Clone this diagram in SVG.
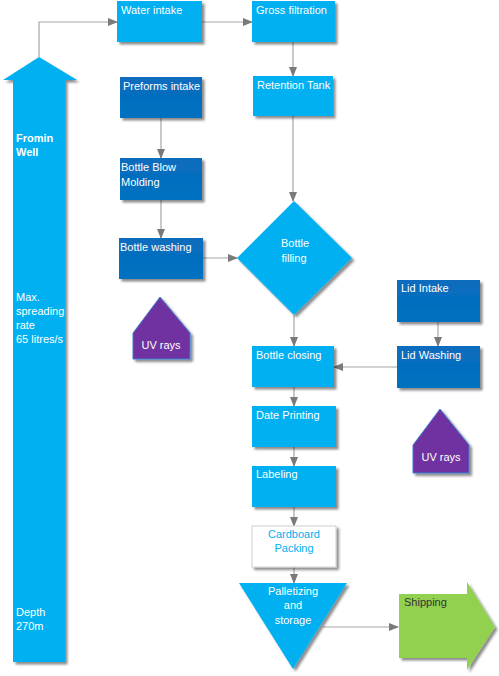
<svg xmlns="http://www.w3.org/2000/svg" width="499" height="676" viewBox="0 0 499 676">
<defs>
<filter id="sh" x="-20%" y="-20%" width="140%" height="140%">
<feDropShadow dx="2.5" dy="2.5" stdDeviation="1.2" flood-color="#000" flood-opacity="0.45"/>
</filter>
<linearGradient id="dk" x1="0" y1="0" x2="0" y2="1">
<stop offset="0" stop-color="#0a6cbd"/>
<stop offset="1" stop-color="#0070c0"/>
</linearGradient>
<marker id="ah" markerWidth="10" markerHeight="8" refX="9" refY="4" orient="auto" markerUnits="userSpaceOnUse">
<path d="M0,0 L10,4 L0,8 Z" fill="#7a7a7a"/>
</marker>
</defs>
<style>
text{font-family:"Liberation Sans",Arial,sans-serif;font-size:11px;fill:#fff}
.lb{fill:#00b0f0;filter:url(#sh)}
.db{fill:url(#dk);filter:url(#sh)}
.uv{fill:#7030a0;stroke:#3a7fd0;stroke-width:1;filter:url(#sh)}
.ca{fill:none;stroke:#a6a6a6;stroke-width:1.2;marker-end:url(#ah)}
.m{text-anchor:middle}
</style>

<g id="connectors">
<path class="ca" d="M39,57 V22 H117"/>
<path class="ca" d="M202,22 H252"/>
<path class="ca" d="M293,42 V76"/>
<path class="ca" d="M293,116 V201"/>
<path class="ca" d="M161,118 V158"/>
<path class="ca" d="M161,200 V238"/>
<path class="ca" d="M203,258 H237"/>
<path class="ca" d="M294,315 V346"/>
<path class="ca" d="M438,322 V346"/>
<path class="ca" d="M397,367 H334"/>
<path class="ca" d="M294,387 V406"/>
<path class="ca" d="M294,447 V466"/>
<path class="ca" d="M294,507 V526"/>
<path class="ca" d="M294,567 V583"/>
<path class="ca" d="M323,627 H398"/>
</g>

<g id="well">
<path class="lb" d="M13,662 V80 H3 L39,57 L77,80 H65 V662 Z"/>
<text x="16" y="142" font-weight="bold">Fromin</text>
<text x="16" y="156" font-weight="bold">Well</text>
<text x="16" y="301">Max.</text>
<text x="16" y="315">spreading</text>
<text x="16" y="329">rate</text>
<text x="16" y="343">65 litres/s</text>
<text x="16" y="616">Depth</text>
<text x="16" y="630">270m</text>
</g>

<g id="water-intake">
<rect class="lb" x="117" y="1" width="85" height="41"/>
<text x="121" y="14">Water intake</text>
</g>
<g id="gross-filtration">
<rect class="lb" x="252" y="1" width="83" height="41"/>
<text x="256" y="14">Gross filtration</text>
</g>
<g id="retention-tank">
<rect class="lb" x="253" y="76" width="80" height="40"/>
<text x="257" y="89">Retention Tank</text>
</g>
<g id="preforms-intake">
<rect class="db" x="120" y="77" width="82" height="41"/>
<text x="123" y="90">Preforms intake</text>
</g>
<g id="bottle-blow-molding">
<rect class="db" x="120" y="158" width="82" height="42"/>
<text x="121" y="171">Bottle Blow</text>
<text x="121" y="186">Molding</text>
</g>
<g id="bottle-washing">
<rect class="db" x="119" y="238" width="84" height="41"/>
<text x="120" y="251">Bottle washing</text>
</g>
<g id="uv-rays-1">
<path class="uv" d="M160,297 L190,333 V359 H133 V333 Z"/>
<text class="m" x="161" y="349">UV rays</text>
</g>
<g id="bottle-filling">
<path class="lb" d="M294,201 L352,258 L294,315 L237,258 Z"/>
<text class="m" x="295" y="247">Bottle</text>
<text class="m" x="294" y="262">filling</text>
</g>
<g id="lid-intake">
<rect class="db" x="397" y="280" width="83" height="42"/>
<text x="401" y="292">Lid Intake</text>
</g>
<g id="lid-washing">
<rect class="db" x="397" y="346" width="83" height="42"/>
<text x="401" y="359">Lid Washing</text>
</g>
<g id="bottle-closing">
<rect class="lb" x="252" y="346" width="82" height="41"/>
<text x="256" y="359">Bottle closing</text>
</g>
<g id="date-printing">
<rect class="lb" x="252" y="406" width="84" height="41"/>
<text x="256" y="419">Date Printing</text>
</g>
<g id="uv-rays-2">
<path class="uv" d="M440,409 L469,445 V473 H413 V445 Z"/>
<text class="m" x="441" y="461">UV rays</text>
</g>
<g id="labeling">
<rect class="lb" x="252" y="466" width="84" height="41"/>
<text x="256" y="478">Labeling</text>
</g>
<g id="cardboard-packing">
<rect x="252" y="526" width="84" height="41" fill="#fff" stroke="#d0d0d0" stroke-width="1" filter="url(#sh)"/>
<text class="m" x="294" y="538" style="fill:#00b0f0">Cardboard</text>
<text class="m" x="294" y="552" style="fill:#00b0f0">Packing</text>
</g>
<g id="palletizing">
<path class="lb" d="M239,583 H347 L293,669 Z"/>
<text class="m" x="293" y="595">Palletizing</text>
<text class="m" x="293" y="609">and</text>
<text class="m" x="293" y="624">storage</text>
</g>
<g id="shipping">
<path d="M399,594 H467 V582 L495,627 L467,670 V658 H399 Z" fill="#92d050" filter="url(#sh)"/>
<text x="404" y="606" style="fill:#333">Shipping</text>
</g>
</svg>
